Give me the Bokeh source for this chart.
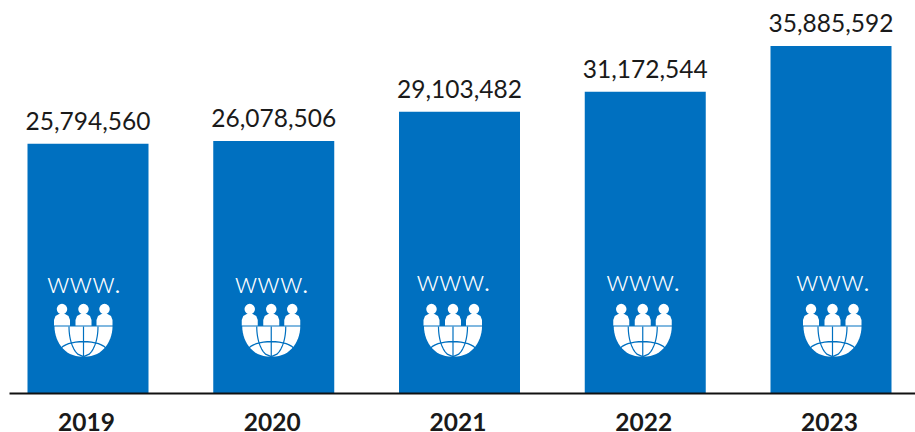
import math
from bokeh.plotting import figure
from bokeh.models import Range1d, FixedTicker, ColumnDataSource
from bokeh.core.properties import value
from bokeh.embed import file_html
from bokeh.resources import INLINE

years = ["2019", "2020", "2021", "2022", "2023"]
visits = [25794560, 26078506, 29103482, 31172544, 35885592]
labels = ["25,794,560", "26,078,506", "29,103,482", "31,172,544", "35,885,592"]
icon_shift = [-4.5, -2.5, -6.5, -2.5, 1.5]
www_rise = [0, 0, 2, 2, 2]

BLUE = "#0070C0"
W, H = 915, 432
AXIS_H = 39.4
FRAME_H = H - AXIS_H
PX_X = 185.75
PX_Y = 347 / 35885592
BAR_SHIFT = 1.5 / PX_X
x_start = -86 / PX_X
x_end = x_start + W / PX_X
y_end = FRAME_H / PX_Y
y_start = -AXIS_H / PX_Y

p = figure(width=W, height=H, output_backend="svg", toolbar_location=None,
           x_range=Range1d(x_start, x_end), y_range=Range1d(y_start, y_end),
           min_border=0, min_border_left=0, min_border_right=0, min_border_top=0,
           min_border_bottom=0, outline_line_color=None)
p.grid.visible = False
p.yaxis.visible = False
ax = p.xaxis[0]
ax.fixed_location = 0
ax.ticker = FixedTicker(ticks=list(range(len(years))))
ax.major_label_overrides = {i: y for i, y in enumerate(years)}
ax.major_label_text_font = "Lato"
ax.major_label_text_font_style = "bold"
ax.major_label_text_font_size = "24.5px"
ax.major_label_text_color = "#1a1a1a"
ax.major_tick_line_color = None
ax.minor_tick_line_color = None
ax.axis_line_color = "#111111"
ax.axis_line_width = 2
ax.major_label_standoff = 14
ax.bounds = (x_start + 9 / PX_X, x_end)

idx = list(range(len(years)))
xs = [i + BAR_SHIFT for i in idx]
src = ColumnDataSource(dict(x=xs, top=visits, label=labels))
p.vbar(x="x", top="top", bottom=0, width=121 / PX_X, color=BLUE, line_color=None, source=src)
p.text(x="x", y="top", text="label", source=src, text_font=value("Lato"),
       text_font_size="24.5px", text_color="#1a1a1a", text_align="center",
       text_baseline="bottom", y_offset=-14)

def X(i, dx):
    return xs[i] + (icon_shift[i] + dx) / PX_X
def Y(dy):
    return dy / PX_Y  # px above the baseline

www_x = [X(i, 0.5) for i in idx]
www_y = [Y(94 + www_rise[i]) for i in idx]
p.text(x=www_x, y=www_y, text=["www."] * 5, text_font=value("Lato Light"), text_font_size="29.5px",
       text_color="white", text_align="center", text_baseline="bottom")

for i in idx:
    for dx in (-21.5, 0, 21):
        p.scatter(x=[X(i, dx)], y=[Y(84)], size=10.5, color="white", line_color=None)
        bx = [dx - 8, dx - 8, dx - 6.5, dx - 3, dx + 3, dx + 6.5, dx + 8, dx + 8]
        by = [67.5, 73, 77, 79, 79, 77, 73, 67.5]
        p.patch([X(i, v) for v in bx], [Y(v) for v in by], color="white", line_color=None)
    R, top, depth = 29, 66.5, 30
    a = [math.radians(d) for d in range(0, 181, 6)]
    gx = [R * math.copysign(abs(math.cos(t)) ** 0.85, math.cos(t)) for t in a]
    gy = [top - depth * math.sin(t) ** 1.05 for t in a]
    p.patch([X(i, v) for v in gx], [Y(v) for v in gy], color="white", line_color=None)
    for m in (-0.5, 0, 0.5):
        t = [k / 12 for k in range(13)]
        mx = [m * R * math.sqrt(max(0, 1 - u * u)) for u in t]
        my = [top - u * depth for u in t]
        p.line([X(i, v) for v in mx], [Y(v) for v in my], color=BLUE, line_width=1.2)
    a2 = [math.radians(d) for d in range(-180, 1, 10)]
    lx = [R * 0.8 * math.cos(t) for t in a2]
    ly = [top - 24 + 9 * math.sin(-t) for t in a2]
    p.line([X(i, v) for v in lx], [Y(v) for v in ly], color=BLUE, line_width=1.3)

open("out.html", "w").write(file_html(p, INLINE))
